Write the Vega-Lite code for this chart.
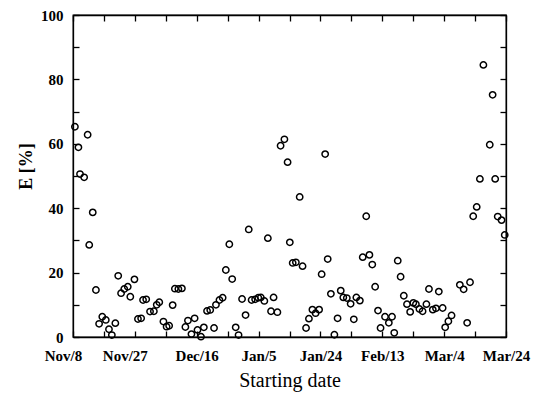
{
  "$schema": "https://vega.github.io/schema/vega-lite/v6.json",
  "width": 433,
  "height": 322,
  "autosize": {"type": "none"},
  "padding": {"left": 73, "top": 15, "right": 36, "bottom": 58},
  "background": "white",
  "config": {
    "view": {"stroke": "black", "strokeWidth": 1.3},
    "axis": {
      "domainColor": "black",
      "domainWidth": 1.3,
      "tickColor": "black",
      "tickWidth": 1.3,
      "tickSize": -6,
      "grid": false,
      "labelFont": "Liberation Serif",
      "labelFontWeight": "bold",
      "labelFontSize": 15,
      "labelColor": "black",
      "titleFont": "Liberation Serif",
      "titleColor": "black",
      "labelOverlap": false,
      "labelFlush": false
    }
  },
  "data": {
    "values": [
      {"day": 0.6, "E": 65.3}, {"day": 1.7, "E": 58.9}, {"day": 2.2, "E": 50.6}, {"day": 3.5, "E": 49.6},
      {"day": 4.6, "E": 62.8}, {"day": 5.1, "E": 28.6}, {"day": 6.2, "E": 38.7}, {"day": 7.2, "E": 14.6},
      {"day": 8.2, "E": 4.1}, {"day": 9.2, "E": 6.3}, {"day": 10.3, "E": 5.3}, {"day": 11.3, "E": 2.4},
      {"day": 12.2, "E": 0.6}, {"day": 13.3, "E": 4.3}, {"day": 14.2, "E": 19.0}, {"day": 15.1, "E": 13.6},
      {"day": 16.1, "E": 14.9}, {"day": 17.2, "E": 15.6}, {"day": 18.0, "E": 12.5}, {"day": 19.3, "E": 17.9},
      {"day": 20.4, "E": 5.6}, {"day": 21.4, "E": 5.8}, {"day": 22.0, "E": 11.5}, {"day": 23.0, "E": 11.7},
      {"day": 24.2, "E": 7.9}, {"day": 25.4, "E": 8.0}, {"day": 26.3, "E": 10.0}, {"day": 27.1, "E": 10.8},
      {"day": 28.4, "E": 4.8}, {"day": 29.4, "E": 3.2}, {"day": 30.2, "E": 3.5}, {"day": 31.3, "E": 9.9},
      {"day": 32.0, "E": 15.0}, {"day": 33.1, "E": 14.9}, {"day": 34.2, "E": 15.1}, {"day": 35.3, "E": 3.1},
      {"day": 36.1, "E": 5.1}, {"day": 37.2, "E": 0.9}, {"day": 38.2, "E": 5.8}, {"day": 39.1, "E": 2.2},
      {"day": 40.2, "E": 0.1}, {"day": 41.1, "E": 3.0}, {"day": 42.1, "E": 8.1}, {"day": 43.1, "E": 8.4},
      {"day": 44.3, "E": 2.8}, {"day": 44.9, "E": 10.0}, {"day": 46.0, "E": 11.5}, {"day": 47.0, "E": 12.2},
      {"day": 48.0, "E": 20.8}, {"day": 49.1, "E": 28.8}, {"day": 50.0, "E": 18.0}, {"day": 51.1, "E": 3.0},
      {"day": 52.0, "E": 0.6}, {"day": 53.1, "E": 11.8}, {"day": 54.2, "E": 6.8}, {"day": 55.2, "E": 33.4},
      {"day": 56.1, "E": 11.5}, {"day": 57.2, "E": 11.7}, {"day": 58.2, "E": 12.2}, {"day": 59.0, "E": 12.3},
      {"day": 60.1, "E": 11.2}, {"day": 61.2, "E": 30.7}, {"day": 62.2, "E": 8.0}, {"day": 63.0, "E": 12.3},
      {"day": 64.2, "E": 7.7}, {"day": 65.2, "E": 59.4}, {"day": 66.4, "E": 61.4}, {"day": 67.4, "E": 54.3},
      {"day": 68.1, "E": 29.4}, {"day": 69.0, "E": 23.0}, {"day": 70.0, "E": 23.2}, {"day": 71.2, "E": 43.5},
      {"day": 72.1, "E": 22.0}, {"day": 73.2, "E": 2.8}, {"day": 74.1, "E": 5.7}, {"day": 75.2, "E": 8.5},
      {"day": 76.2, "E": 7.4}, {"day": 77.3, "E": 8.5}, {"day": 78.1, "E": 19.5}, {"day": 79.2, "E": 56.8},
      {"day": 80.0, "E": 24.2}, {"day": 81.0, "E": 13.4}, {"day": 82.1, "E": 0.7}, {"day": 83.1, "E": 5.8},
      {"day": 84.1, "E": 14.4}, {"day": 84.9, "E": 12.3}, {"day": 86.0, "E": 12.1}, {"day": 87.2, "E": 10.3},
      {"day": 88.2, "E": 5.5}, {"day": 89.0, "E": 12.3}, {"day": 90.1, "E": 11.3}, {"day": 91.0, "E": 24.8},
      {"day": 92.1, "E": 37.5}, {"day": 93.1, "E": 25.5}, {"day": 94.0, "E": 22.5}, {"day": 94.9, "E": 15.6},
      {"day": 95.8, "E": 8.2}, {"day": 96.6, "E": 2.8}, {"day": 98.0, "E": 6.3}, {"day": 99.2, "E": 4.4},
      {"day": 100.2, "E": 6.3}, {"day": 100.9, "E": 1.3}, {"day": 102.0, "E": 23.7}, {"day": 102.9, "E": 18.7},
      {"day": 103.9, "E": 12.8}, {"day": 104.9, "E": 10.2}, {"day": 105.9, "E": 7.8}, {"day": 106.9, "E": 10.6},
      {"day": 107.7, "E": 10.2}, {"day": 108.8, "E": 8.7}, {"day": 109.8, "E": 8.0}, {"day": 111.0, "E": 10.2},
      {"day": 111.8, "E": 14.9}, {"day": 113.0, "E": 8.5}, {"day": 114.0, "E": 8.9}, {"day": 114.9, "E": 14.1},
      {"day": 116.1, "E": 9.0}, {"day": 116.9, "E": 3.0}, {"day": 117.9, "E": 4.9}, {"day": 118.9, "E": 6.7},
      {"day": 121.5, "E": 16.2}, {"day": 122.7, "E": 14.8}, {"day": 123.8, "E": 4.4}, {"day": 124.7, "E": 17.0},
      {"day": 125.7, "E": 37.5}, {"day": 126.8, "E": 40.4}, {"day": 127.8, "E": 49.1}, {"day": 128.9, "E": 84.5},
      {"day": 130.9, "E": 59.7}, {"day": 131.8, "E": 75.2}, {"day": 132.6, "E": 49.1}, {"day": 133.4, "E": 37.4},
      {"day": 134.6, "E": 36.3}, {"day": 135.6, "E": 31.7}
    ]
  },
  "layer": [
    {
      "mark": {"type": "point", "shape": "circle", "filled": false, "color": "black", "size": 40, "strokeWidth": 1.5, "opacity": 1},
      "encoding": {
        "x": {
          "field": "day", "type": "quantitative",
          "scale": {"domain": [0, 136], "nice": false, "zero": false},
          "axis": {
            "orient": "bottom",
            "values": [0, 9.714286, 19.428571, 29.142857, 38.857143, 48.571429, 58.285714, 68, 77.714286, 87.428571, 97.142857, 106.857143, 116.571429, 126.285714, 136],
            "labelExpr": "abs(datum.value*7/136 - round(datum.value*7/136)) < 0.01 ? ['Nov/8','Nov/27','Dec/16','Jan/5','Jan/24','Feb/13','Mar/4','Mar/24'][round(datum.value*7/136)] : ''",
            "labelOffset": {"condition": {"test": "datum.value < 25", "value": -10}, "value": 0},
            "labelPadding": 17,
            "labelBaseline": "top",
            "title": "Starting date",
            "titleFontSize": 20,
            "titleFontWeight": "normal",
            "titleY": 49,
            "titleBaseline": "alphabetic"
          }
        },
        "y": {
          "field": "E", "type": "quantitative",
          "scale": {"domain": [0, 100], "nice": false, "zero": true},
          "axis": {
            "orient": "left",
            "values": [0, 10, 20, 30, 40, 50, 60, 70, 80, 90, 100],
            "labelExpr": "datum.value % 20 == 0 ? datum.label : ''",
            "labelPadding": 16,
            "title": "E [%]",
            "titleFontSize": 18,
            "titleFontWeight": "bold",
            "titleAngle": -90,
            "titleX": -47,
            "titleY": 151,
            "titleAlign": "center",
            "titleBaseline": "middle"
          }
        }
      }
    },
    {
      "mark": {"type": "point", "opacity": 0},
      "encoding": {
        "x": {
          "field": "day", "type": "quantitative",
          "scale": {"domain": [0, 136], "nice": false, "zero": false},
          "axis": {
            "orient": "top",
            "values": [0, 9.714286, 19.428571, 29.142857, 38.857143, 48.571429, 58.285714, 68, 77.714286, 87.428571, 97.142857, 106.857143, 116.571429, 126.285714, 136],
            "labels": false,
            "title": null
          }
        },
        "y": {
          "field": "E", "type": "quantitative",
          "scale": {"domain": [0, 100], "nice": false, "zero": true},
          "axis": {
            "orient": "right",
            "values": [0, 10, 20, 30, 40, 50, 60, 70, 80, 90, 100],
            "labels": false,
            "title": null
          }
        }
      }
    }
  ],
  "resolve": {"axis": {"x": "independent", "y": "independent"}}
}
